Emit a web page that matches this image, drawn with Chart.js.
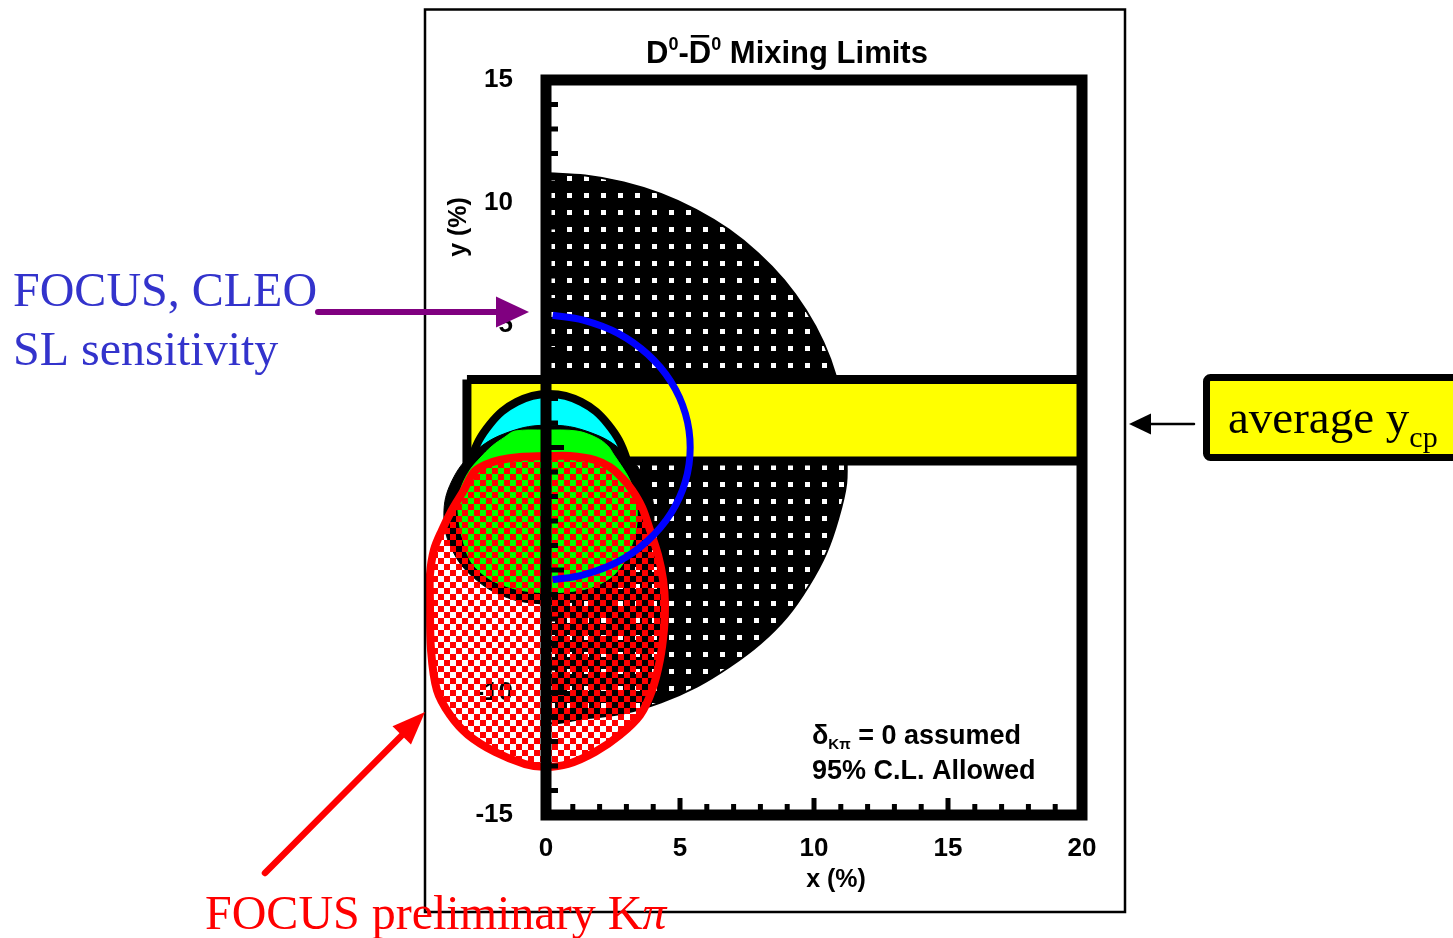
<!DOCTYPE html>
<html>
<head>
<meta charset="utf-8">
<title>D0-D0bar Mixing Limits</title>
<style>
  html, body { margin: 0; padding: 0; background: #fff; overflow: hidden; }
  canvas { display: block; }
</style>
<script src="https://cdn.jsdelivr.net/npm/chart.js@4.4.1/dist/chart.umd.min.js"></script>
</head>
<body>
<canvas id="chart" width="1453" height="938"></canvas>
<script>
// ---- axis ticks -------------------------------------------------------
const xTicks = [0, 5, 10, 15, 20];
const xTickLabels = ['0', '5', '10', '15', '20'];
const yTicks = [15, 10, 5, 0, -5, -10, -15];
const yTickLabels = ['15', '10', '5', '0', '-5', '-10', '-15'];

// ---- 95% C.L. allowed region (delta_Kpi = 0), x >= 0 half plane -------
const allowedX = [0, 1.46, 2.90, 4.29, 5.60, 6.82, 7.92, 8.89, 9.70, 10.35, 10.82, 11.10, 11.20, 11.20, 10.90, 10.45, 9.80, 9.00, 8.00, 6.85, 5.65, 4.30, 2.90, 1.45, 0, 0, 0, 0, 0];
const allowedY = [11.20, 11.10, 10.82, 10.35, 9.70, 8.89, 7.92, 6.82, 5.60, 4.29, 2.90, 1.46, 0, -1.47, -2.92, -4.33, -5.65, -6.90, -8.00, -8.95, -9.75, -10.40, -10.85, -11.05, -11.10, -5, 0, 5, 11.20];

// ---- average y_cp band --------------------------------------------------
const ycpLow = -0.55;
const ycpHigh = 2.78;
const ycpFrom = -2.95;
const ycpTo = 20;

// ---- outer (cyan) contour -----------------------------------------------
const cyanX = [0.11, 1.31, 2.32, 3.00, 3.24, 3.00, 2.32, 1.31, 0.11, -1.09, -2.10, -2.78, -3.02, -2.78, -2.10, -1.09, 0.11];
const cyanY = [-6.30, -5.98, -5.06, -3.68, -2.06, -0.44, 0.94, 1.86, 2.18, 1.86, 0.94, -0.44, -2.06, -3.68, -5.06, -5.98, -6.30];

// ---- dark ring inside the cyan contour ----------------------------------
const darkX = [0.11, 1.61, 2.88, 3.73, 4.03, 3.73, 2.88, 1.61, 0.11, -1.39, -2.66, -3.51, -3.81, -3.51, -2.66, -1.39, 0.11];
const darkY = [-6.43, -6.15, -5.35, -4.16, -2.76, -1.36, -0.17, 0.63, 0.91, 0.63, -0.17, -1.36, -2.76, -4.16, -5.35, -6.15, -6.43];

// ---- inner (green) contour ----------------------------------------------
const greenX = [-0.04, 0.71, 1.64, 2.39, 2.84, 3.13, 3.36, 3.40, 3.32, 3.13, 2.87, 2.54, 2.31, 1.90, 1.16, -0.04, -1.16, -1.53, -2.01, -2.46, -2.84, -3.13, -3.28, -3.25, -3.10, -2.84, -2.46, -1.90, -0.97, -0.04];
const greenY = [-5.94, -5.90, -5.73, -5.33, -4.80, -4.18, -3.37, -2.55, -1.94, -1.33, -0.84, -0.31, 0.06, 0.39, 0.67, 0.71, 0.67, 0.43, 0.06, -0.43, -0.92, -1.53, -2.14, -2.96, -3.78, -4.59, -5.08, -5.49, -5.82, -5.94];

// ---- FOCUS preliminary K pi contour -------------------------------------
const focusX = [0, 0.90, 1.83, 2.39, 2.84, 3.21, 3.58, 3.88, 4.18, 4.37, 4.44, 4.40, 4.25, 3.96, 3.51, 2.76, 1.83, 0.82, 0, -0.78, -1.90, -2.91, -3.58, -4.07, -4.29, -4.33, -4.33, -4.18, -3.88, -3.51, -3.06, -2.69, -2.28, -1.72, -0.97, 0];
const focusY = [-0.35, -0.35, -0.51, -0.80, -1.24, -1.73, -2.43, -3.37, -4.39, -5.41, -6.43, -7.45, -8.67, -9.90, -10.92, -11.73, -12.43, -12.92, -13.04, -12.92, -12.43, -11.73, -10.92, -9.90, -8.27, -6.22, -5.20, -4.18, -3.37, -2.55, -1.73, -1.00, -0.71, -0.51, -0.39, -0.35];

// ---- FOCUS, CLEO semileptonic sensitivity --------------------------------
const slX = [0.25, 1.39, 2.69, 3.80, 4.66, 5.20, 5.38, 5.20, 4.66, 3.80, 2.69, 1.39, 0.25];
const slY = [5.40, 5.20, 4.66, 3.80, 2.69, 1.39, 0, -1.39, -2.69, -3.80, -4.66, -5.20, -5.40];

// ---- helpers ------------------------------------------------------------
const canvas = document.getElementById('chart');
const ctx0 = canvas.getContext('2d');
const pts = (xs, ys) => xs.map((v, i) => ({ x: v, y: ys[i] }));

function dotPattern() {
  const c = document.createElement('canvas');
  c.width = 17; c.height = 17;
  const g = c.getContext('2d');
  g.fillStyle = '#000'; g.fillRect(0, 0, 17, 17);
  g.fillStyle = '#fff'; g.fillRect(6, 6, 5, 5);
  return ctx0.createPattern(c, 'repeat');
}
function checkerPattern(color) {
  const c = document.createElement('canvas');
  c.width = 12; c.height = 12;
  const g = c.getContext('2d');
  g.fillStyle = color;
  g.fillRect(0, 0, 6, 6);
  g.fillRect(6, 6, 6, 6);
  return ctx0.createPattern(c, 'repeat');
}

const bold = s => `bold ${s}px "Liberation Sans", Arial, sans-serif`;
const serif = (s, it) => `${it ? 'italic ' : ''}${s}px "Liberation Serif", "Times New Roman", serif`;

// draw a row of text runs (different fonts / offsets) starting at x or centred on x
function runs(ctx, parts, x, y, align) {
  let w = 0;
  parts.forEach(p => { ctx.font = p.f; p.w = ctx.measureText(p.t).width; w += p.w; });
  let cx = align === 'center' ? x - w / 2 : x;
  ctx.textAlign = 'left';
  ctx.textBaseline = 'alphabetic';
  parts.forEach(p => {
    ctx.font = p.f;
    ctx.fillStyle = p.c || '#000';
    ctx.fillText(p.t, cx, y + (p.dy || 0));
    if (p.bar) ctx.fillRect(cx + 2, y - p.bar, p.w - 4, 2.5);
    cx += p.w;
  });
}

function arrow(ctx, x1, y1, x2, y2, color, width, headLen, headHalf) {
  const dx = x2 - x1, dy = y2 - y1, len = Math.hypot(dx, dy);
  const ux = dx / len, uy = dy / len;
  const bx = x2 - ux * headLen, by = y2 - uy * headLen;
  ctx.strokeStyle = color; ctx.fillStyle = color;
  ctx.lineWidth = width; ctx.lineCap = 'round';
  ctx.beginPath(); ctx.moveTo(x1, y1); ctx.lineTo(bx + ux * 2, by + uy * 2); ctx.stroke();
  ctx.beginPath();
  ctx.moveTo(x2, y2);
  ctx.lineTo(bx - uy * headHalf, by + ux * headHalf);
  ctx.lineTo(bx + uy * headHalf, by - ux * headHalf);
  ctx.closePath(); ctx.fill();
}

// ---- decorations: frame, ticks, labels, annotations ----------------------
const decor = {
  id: 'decor',
  beforeDatasetsDraw(chart) {
    const { ctx, scales: { x, y } } = chart;
    const left = x.getPixelForValue(0);
    ctx.save();
    ctx.fillStyle = '#000';
    ctx.font = bold(26);
    ctx.textAlign = 'right';
    ctx.textBaseline = 'middle';
    yTicks.forEach((v, i) => ctx.fillText(yTickLabels[i], left - 33, y.getPixelForValue(v)));
    ctx.restore();
  },
  afterDatasetsDraw(chart) {
    const { ctx, scales: { x, y } } = chart;
    const L = x.getPixelForValue(0), R = x.getPixelForValue(20);
    const T = y.getPixelForValue(15), B = y.getPixelForValue(-15);
    ctx.save();

    // plot frame
    ctx.strokeStyle = '#000';
    ctx.lineWidth = 11;
    ctx.lineJoin = 'miter';
    ctx.strokeRect(L, T, R - L, B - T);

    // inner ticks
    ctx.fillStyle = '#000';
    for (let v = -14; v <= 14; v++) {
      const len = v % 5 === 0 ? 13 : 7;
      ctx.fillRect(L + 5, y.getPixelForValue(v) - 2.5, len, 5);
    }
    for (let v = 1; v <= 19; v++) {
      const len = v % 5 === 0 ? 12 : 6;
      ctx.fillRect(x.getPixelForValue(v) - 2.5, B - 5 - len, 5, len);
    }

    // x tick labels
    ctx.font = bold(26);
    ctx.textAlign = 'center';
    ctx.textBaseline = 'middle';
    xTicks.forEach((v, i) => ctx.fillText(xTickLabels[i], x.getPixelForValue(v), 849));

    // axis titles
    ctx.font = bold(25);
    ctx.fillText('x (%)', (L + R) / 2 + 22, 880);
    ctx.save();
    ctx.translate(459, 227);
    ctx.rotate(-Math.PI / 2);
    ctx.fillText('y (%)', 0, 0);
    ctx.restore();

    // title
    runs(ctx, [
      { t: 'D', f: bold(31) },
      { t: '0', f: bold(18), dy: -13 },
      { t: '-', f: bold(31) },
      { t: 'D', f: bold(31), bar: 28 },
      { t: '0', f: bold(18), dy: -13 },
      { t: ' Mixing Limits', f: bold(31) }
    ], 787, 63, 'center');

    // corner note
    runs(ctx, [
      { t: 'δ', f: bold(27) },
      { t: 'Kπ', f: bold(15), dy: 5 },
      { t: ' = 0 assumed', f: bold(27) }
    ], 812, 744, 'left');
    runs(ctx, [{ t: '95% C.L. Allowed', f: bold(27) }], 812, 779, 'left');

    // outer figure border
    ctx.strokeStyle = '#000';
    ctx.lineWidth = 2.5;
    ctx.strokeRect(425, 9.5, 700, 902.5);

    // annotation: FOCUS, CLEO SL sensitivity
    runs(ctx, [{ t: 'FOCUS, CLEO', f: serif(48), c: '#3333cc' }], 13, 306, 'left');
    runs(ctx, [{ t: 'SL sensitivity', f: serif(48), c: '#3333cc' }], 13, 365, 'left');
    arrow(ctx, 318, 312, 529, 312, '#800080', 6, 33, 15.5);

    // annotation: FOCUS preliminary K pi
    arrow(ctx, 265, 873, 425, 712, '#ff0000', 6.5, 33, 13);
    runs(ctx, [
      { t: 'FOCUS preliminary K', f: serif(48), c: '#ff0000' },
      { t: 'π', f: serif(48, true), c: '#ff0000' }
    ], 205, 929, 'left');

    // annotation: average y_cp
    arrow(ctx, 1194, 424, 1129, 424, '#000', 2.5, 22, 10.5);
    ctx.beginPath();
    ctx.roundRect(1206.5, 377.5, 280, 80, 4);
    ctx.fillStyle = '#ffff00';
    ctx.fill();
    ctx.lineWidth = 7;
    ctx.strokeStyle = '#000';
    ctx.stroke();
    runs(ctx, [
      { t: 'average y', f: serif(47) },
      { t: 'cp', f: serif(30), dy: 14 }
    ], 1228, 433, 'left');

    ctx.restore();
  }
};

// ---- chart ---------------------------------------------------------------
const shape = (data, bg, border, width, tension, order) => ({
  data, backgroundColor: bg, borderColor: border, borderWidth: width,
  fill: 'shape', tension, order, pointRadius: 0, pointHoverRadius: 0, borderJoinStyle: 'round'
});

const bandPoints = pts([ycpFrom, ycpTo, ycpTo, ycpFrom, ycpFrom], [ycpHigh, ycpHigh, ycpLow, ycpLow, ycpHigh]);

new Chart(canvas, {
  type: 'line',
  data: {
    datasets: [
      shape(pts(allowedX, allowedY), dotPattern(), '#000', 2, 0.3, 7),
      Object.assign(shape(bandPoints, '#ffff00', '#000', 9, 0, 6), { borderJoinStyle: 'miter' }),
      shape(pts(cyanX, cyanY), '#00ffff', '#000', 8, 0.4, 5),
      shape(pts(darkX, darkY), '#000', '#000', 1, 0.4, 4),
      shape(pts(greenX, greenY), '#00ff00', '#00ff00', 1, 0.35, 3),
      shape(pts(focusX, focusY), checkerPattern('#ff0000'), '#ff0000', 8, 0.35, 2),
      {
        data: pts(slX, slY), borderColor: '#0000ff', borderWidth: 7, fill: false,
        tension: 0.4, order: 1, pointRadius: 0, pointHoverRadius: 0
      }
    ]
  },
  options: {
    responsive: false,
    animation: false,
    devicePixelRatio: 1,
    events: [],
    layout: { padding: 0 },
    scales: {
      x: { type: 'linear', min: -20.373, max: 33.843, display: false },
      y: { type: 'linear', min: -20.02, max: 18.265, display: false }
    },
    plugins: {
      legend: { display: false },
      tooltip: { enabled: false },
      title: { display: false }
    }
  },
  plugins: [decor]
});
</script>
</body>
</html>
